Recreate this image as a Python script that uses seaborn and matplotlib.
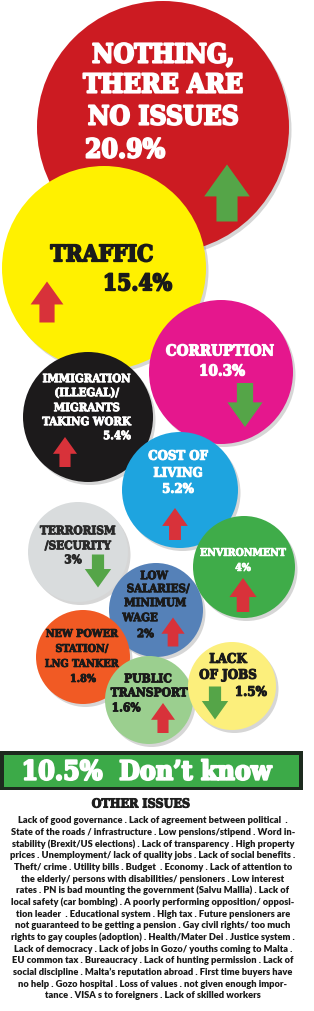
import matplotlib
matplotlib.use("Agg")
import matplotlib.pyplot as plt
import matplotlib.patheffects as pe
import seaborn as sns
import pandas as pd
import numpy as np
from matplotlib.patches import Rectangle

# ------------------------------------------------------------------ data
issues = ["NOTHING,\nTHERE ARE\nNO ISSUES", "TRAFFIC", "CORRUPTION",
          "IMMIGRATION\n(ILLEGAL)/\nMIGRANTS\nTAKING WORK", "COST OF\nLIVING",
          "TERRORISM\n/SECURITY", "ENVIRONMENT", "LOW\nSALARIES/\nMINIMUM\nWAGE",
          "NEW POWER\nSTATION/\nLNG TANKER", "PUBLIC\nTRANSPORT", "LACK\nOF JOBS"]
percent = [20.9, 15.4, 10.3, 5.4, 5.2, 3, 4, 2, 1.8, 1.6, 1.5]
trend = ["up", "up", "down", "up", "up", "down", "up", "up", None, "up", "down"]
trend_tone = ["good", "bad", "good", "bad", "bad", "good", "bad", "bad", None, "bad", "good"]
dont_know = 10.5
dont_know_label = "Don\u2019t know"
other_title = "OTHER ISSUES"
other_issues = [
    "Lack of good governance . Lack of agreement between political  .",
    "State of the roads / infrastructure . Low pensions/stipend . Word in-",
    "stability (Brexit/US elections) . Lack of transparency . High property",
    "prices . Unemployment/ lack of quality jobs . Lack of social benefits .",
    "Theft/ crime . Utility bills . Budget  . Economy . Lack of attention to",
    "the elderly/ persons with disabilities/ pensioners . Low interest",
    "rates . PN is bad mounting the government (Salvu Mallia) . Lack of",
    "local safety (car bombing) . A poorly performing opposition/ opposi-",
    "tion leader  . Educational system . High tax . Future pensioners are",
    "not guaranteed to be getting a pension . Gay civil rights/ too much",
    "rights to gay couples (adoption) . Health/Mater Dei . Justice system .",
    "Lack of democracy . Lack of jobs in Gozo/ youths coming to Malta .",
    "EU common tax . Bureaucracy . Lack of hunting permission . Lack of",
    "social discipline . Malta\u2019s reputation abroad . First time buyers have",
    "no help . Gozo hospital . Loss of values . not given enough impor-",
    "tance . VISA s to foreigners . Lack of skilled workers",
]

# ------------------------------------------------------------------ layout / style (pixels)
W, H, DPI = 314, 1011, 100
PX2PT = 72 / DPI
cx = [163, 104, 221, 88, 180, 78, 244, 156, 83, 149, 232]
cy = [127, 268, 372, 417, 490, 552, 567, 610, 657, 700, 686]
rad = [126, 102, 72, 65, 58, 50, 51, 47, 47, 44, 44]
fill = ["#cc1b22", "#fff100", "#e5178d", "#1c1a1b", "#1ea4df", "#d9dcdd",
        "#3fac49", "#5581b8", "#f15a24", "#9bcf8f", "#fcef7c"]
ink = ["white", "#1a1a1a", "white", "white", "white", "#2a2a2a",
       "white", "#1a1a1a", "#1a1a1a", "#1a1a1a", "#1a1a1a"]
label_xy = [
    [(163, 53), (163, 83), (163, 115)],
    [(102, 253)],
    [(220, 350)],
    [(87, 378), (87, 392), (87, 407), (87, 421)],
    [(178, 455), (178, 472)],
    [(78, 530), (78, 545)],
    [(243, 552)],
    [(154, 575), (158, 588), (155, 602), (140, 617)],
    [(82, 633), (82, 648), (82, 663)],
    [(148, 678), (149, 692)],
    [(228, 658), (228, 674)],
]
pct_xy = [(85, 148, "left"), (172, 282, "right"), (222, 370, "center"),
          (131, 435, "right"), (178, 488, "center"), (73, 559, "center"),
          (243, 567, "center"), (137, 633, "left"), (83, 678, "center"),
          (126, 707, "center"), (267, 691, "right")]
label_pt = [19.5, 16.5, 12.5, 9.8, 11.5, 9.8, 9.8, 9.8, 9.8, 9.8, 11.5]
label_maxw = [160, 103, 108, 89, 60, 76, 86, 63, 74, 77, 58]
pct_pt = [None, None, None, None, None, None, 9.8, None, None, None, None]
arrow_xy = [(227, 193), (47, 302), (245, 405), (65, 452), (175, 524),
            (98, 571), (243, 595), (173, 632), None, (163, 718), (215, 703)]
arrow_h = [57, 41, 44, 30, 32, 33, 34, 29, None, 30, 33]
arrow_colors = {"good": "#55a548", "bad": "#d8323a"}

HEAVY = ["DejaVu Serif Condensed", "DejaVu Serif"]
NARROW = ["Liberation Sans Narrow", "DejaVu Sans Condensed", "Lato", "DejaVu Sans"]
CAP = 0.729

sns.set_theme(style="white")
plt.rcParams["font.family"] = ["DejaVu Sans"]

fig = plt.figure(figsize=(W / DPI, H / DPI), dpi=DPI)
fig.patch.set_facecolor("white")
ax = fig.add_axes([0, 0, 1, 1])

df = pd.DataFrame({"issue": issues, "pct": percent, "x": cx, "y": cy, "r": rad})
size_map = {iss: (2 * r * PX2PT) ** 2 for iss, r in zip(issues, rad)}
palette = dict(zip(issues, fill))

# soft shadows
shadow = df.assign(x=df["x"] + 2.5, y=df["y"] + 3)
sns.scatterplot(data=shadow, x="x", y="y", size="issue", sizes=size_map,
                color="#8a8a8a", alpha=0.35, linewidth=0, legend=False, ax=ax, zorder=1)
# bubbles
sns.scatterplot(data=df, x="x", y="y", hue="issue", palette=palette, size="issue",
                sizes=size_map, linewidth=0, legend=False, ax=ax, zorder=2)

# trend arrows
up = np.array([[0, 1], [0.8, -0.12], [0.37, -0.12], [0.37, -1], [-0.37, -1],
               [-0.37, -0.12], [-0.8, -0.12], [0, 1]])
down = up * np.array([1, -1])
rows = [(iss, a[0], a[1], t, tone, h) for iss, a, t, tone, h in
        zip(issues, arrow_xy, trend, trend_tone, arrow_h) if t is not None]
adf = pd.DataFrame(rows, columns=["issue", "x", "y", "trend", "tone", "h"])
arrow_sizes = {iss: (h * PX2PT) ** 2 for iss, h in zip(adf["issue"], adf["h"])}
sns.scatterplot(data=adf, x="x", y="y", style="trend", markers={"up": up, "down": down},
                hue="tone", palette=arrow_colors, size="issue", sizes=arrow_sizes,
                linewidth=0, legend=False, ax=ax, zorder=4)

ax.set_xlim(0, W)
ax.set_ylim(H, 0)
ax.axis("off")

renderer = fig.canvas.get_renderer()


def baseline(yc, fs):
    return yc + CAP * fs / PX2PT / 2


def put(x, yc, s, fs, color, ha, fam, z=6, heavy=True, weight="bold"):
    t = ax.text(x, baseline(yc, fs), s, fontsize=fs, color=color, ha=ha, va="baseline",
                family=fam, weight=weight, stretch="condensed", zorder=z)
    t._yc = yc
    t._heavy = heavy
    return t


def fit(texts, maxw, measured=None):
    measured = measured or texts
    w = max(t.get_window_extent(renderer).width for t in measured)
    k = min(1.0, maxw / w)
    for t in texts:
        fs = t.get_fontsize() * k
        t.set_fontsize(fs)
        t.set_y(baseline(t._yc, fs))
        if t._heavy:
            t.set_path_effects([pe.withStroke(linewidth=0.075 * fs,
                                              foreground=t.get_color())])


for i, iss in enumerate(issues):
    lines = iss.split("\n")
    fs = label_pt[i]
    lab = [put(x, y, ln, fs, ink[i], "center", HEAVY) for ln, (x, y) in zip(lines, label_xy[i])]
    px, py, pha = pct_xy[i]
    p = put(px, py, f"{percent[i]:g}%", fs, ink[i], pha, HEAVY)
    fit(lab + [p], label_maxw[i], measured=lab)

# "don't know" banner
ax.add_patch(Rectangle((0, 751), 303, 39, facecolor="#1d2a1e", edgecolor="none", zorder=7))
ax.add_patch(Rectangle((4, 754.5), 294.5, 32, facecolor="#3caa48", edgecolor="none", zorder=8))
b = put(147, 770, f"{dont_know:g}%  {dont_know_label}", 21.5, "white", "center", HEAVY, z=9)
fit([b], 250)

# other issues
t = put(141, 803, other_title, 9.0, "#1e1e1e", "center", HEAVY)
fit([t], 103)
para = [put(153, 820 + 11.67 * i, ln, 6.7, "#1a1a1a", "center", NARROW, heavy=False, weight="heavy")
        for i, ln in enumerate(other_issues)]
fit(para, 300)

fig.savefig("out.png", dpi=DPI, facecolor="white")
